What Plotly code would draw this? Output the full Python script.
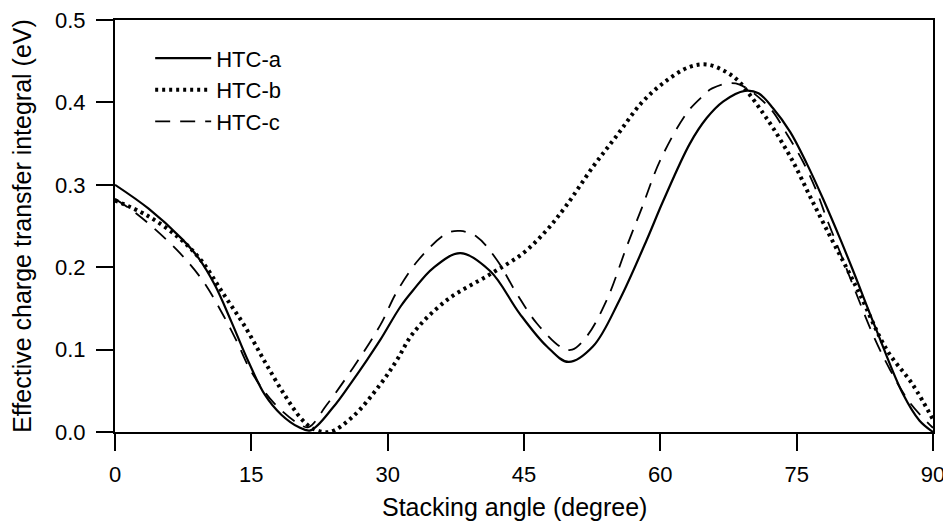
import plotly.graph_objects as go

# HTC-a (solid)
angle_a = [0, 3.7, 7.3, 9.2, 11.0, 12.8, 14.7, 16.5, 18.3, 20.2, 21.5, 24, 26, 27.7, 29.2, 31.4, 32.8, 35, 38, 41.3, 44.5, 47.5, 49.9, 52.6, 55.5, 58.5, 60.3, 63.25, 65.1, 66.9, 69.3, 70.8, 72.4, 74.3, 76.1, 77.9, 79.8, 81.2, 83.8, 86.7, 88.5, 90]
htc_a = [0.300, 0.271, 0.235, 0.211, 0.178, 0.134, 0.085, 0.045, 0.021, 0.006, 0.002, 0.030, 0.060, 0.087, 0.112, 0.152, 0.172, 0.199, 0.217, 0.195, 0.144, 0.104, 0.085, 0.104, 0.160, 0.233, 0.280, 0.350, 0.381, 0.401, 0.414, 0.411, 0.393, 0.364, 0.326, 0.283, 0.234, 0.196, 0.123, 0.046, 0.014, 0.000]

# HTC-b (dotted)
angle_b = [0, 3.5, 7.0, 9.5, 11.9, 14.3, 16.5, 18.6, 20.5, 21.8, 23.6, 26.2, 29.2, 31, 32.8, 36.5, 41.2, 44.9, 47.5, 49.6, 52.6, 55.3, 57.9, 60.5, 63.2, 65.1, 66.9, 68.5, 70.0, 71.3, 72.4, 74.5, 76.6, 78.7, 80.5, 82, 84.9, 87.8, 90]
htc_b = [0.281, 0.263, 0.236, 0.208, 0.168, 0.128, 0.085, 0.046, 0.016, 0.004, 0.000, 0.019, 0.058, 0.087, 0.120, 0.160, 0.191, 0.217, 0.245, 0.274, 0.322, 0.361, 0.399, 0.425, 0.443, 0.446, 0.439, 0.427, 0.407, 0.387, 0.369, 0.330, 0.283, 0.237, 0.199, 0.166, 0.100, 0.057, 0.015]

# HTC-c (dashed)
angle_c = [0, 2, 4.0, 7.15, 9.7, 11.7, 13.4, 15.0, 17.5, 20.2, 21.3, 23.3, 26.2, 29.2, 31, 33.4, 36.5, 38, 39.8, 42, 44.2, 46.4, 49.2, 50.3, 51.9, 54.1, 56.3, 58, 60, 62.9, 64.6, 65.7, 68.3, 71.9, 73.9, 75.7, 77.2, 78.3, 79.6, 81.2, 83.4, 85.3, 87.5, 90]
htc_c = [0.283, 0.268, 0.250, 0.217, 0.183, 0.146, 0.110, 0.073, 0.035, 0.010, 0.006, 0.033, 0.078, 0.130, 0.170, 0.209, 0.241, 0.244, 0.237, 0.209, 0.168, 0.132, 0.102, 0.100, 0.116, 0.160, 0.225, 0.273, 0.330, 0.387, 0.407, 0.417, 0.423, 0.395, 0.362, 0.328, 0.292, 0.259, 0.223, 0.178, 0.118, 0.075, 0.035, 0.005]

x_ticks = [0, 15, 30, 45, 60, 75, 90]
y_ticks = [0.0, 0.1, 0.2, 0.3, 0.4, 0.5]
y_tick_labels = ["0.0", "0.1", "0.2", "0.3", "0.4", "0.5"]

FONT = "Liberation Sans, Arial, sans-serif"

fig = go.Figure()
fig.add_trace(go.Scatter(x=angle_a, y=htc_a, mode="lines", name="HTC-a",
                         line=dict(color="black", width=2.2, shape="spline", smoothing=1)))
fig.add_trace(go.Scatter(x=angle_b, y=htc_b, mode="lines", name="HTC-b",
                         line=dict(color="black", width=4, dash="3px,4px", shape="spline", smoothing=1)))
fig.add_trace(go.Scatter(x=angle_c, y=htc_c, mode="lines", name="HTC-c",
                         line=dict(color="black", width=1.8, dash="15px,10px", shape="spline", smoothing=1)))

axis_common = dict(
    showline=True, linecolor="black", linewidth=2, mirror=True,
    ticks="outside", ticklen=17, tickwidth=2, tickcolor="black",
    showgrid=False, zeroline=False, automargin=False,
    ticklabeloverflow="allow",
    tickfont=dict(family=FONT, size=22, color="black"),
)

fig.update_xaxes(range=[0, 90], tickvals=x_ticks, ticklabelstandoff=5, **axis_common)
fig.update_yaxes(range=[0, 0.5], tickvals=y_ticks, ticktext=y_tick_labels, ticklabelstandoff=6,
                 title=dict(text="Effective charge transfer integral (eV)", font=dict(family=FONT, size=25, color="black"), standoff=16),
                 **axis_common)

fig.add_annotation(text="Stacking angle (degree)", xref="paper", yref="paper",
                   x=0.488, y=-0.183, xanchor="center", yanchor="middle", showarrow=False,
                   font=dict(family=FONT, size=25, color="black"))

fig.update_layout(
    width=951, height=525,
    margin=dict(l=107, r=26, t=12, b=101),
    plot_bgcolor="white", paper_bgcolor="white",
    font=dict(family=FONT, color="black"),
    legend=dict(x=0.043, y=0.958, xanchor="left", yanchor="top",
                bgcolor="rgba(0,0,0,0)", font=dict(family=FONT, size=22, color="black"),
                itemwidth=56, tracegroupgap=0),
    showlegend=True,
)

fig.write_html("out.html")
